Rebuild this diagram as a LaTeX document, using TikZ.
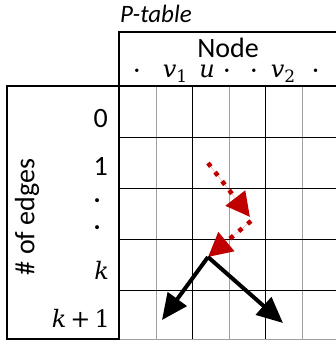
\documentclass[tikz,border=0pt]{standalone}
\usepackage{fontspec}
\setmainfont{Carlito}
\newfontfamily\varfont{DejaVu Serif}
\usetikzlibrary{arrows.meta}
\definecolor{crimson}{RGB}{192,0,0}
\definecolor{gridgray}{RGB}{160,160,160}
\newcommand{\var}[1]{{\varfont\itshape #1}}
\newcommand{\idx}[1]{\raisebox{-0.22em}{\varfont\fontsize{17}{17}\selectfont #1}}
\tikzset{
  lbl/.style={font=\fontsize{28}{32}\selectfont,inner sep=0pt},
  varlbl/.style={font=\fontsize{24}{28}\selectfont,inner sep=0pt},
  rowlbl/.style={lbl,anchor=base east},
  collbl/.style={varlbl,anchor=base},
  gridline/.style={line width=1pt,draw=#1},
  gridline/.default=black,
  frame/.style={line width=1.3pt,draw=black},
  hop/.style={-{Triangle[length=24pt,width=24pt]},draw=crimson,fill=crimson,
    line width=4.5pt,dash pattern=on 4.5pt off 7pt},
  edgestep/.style={-{Triangle[length=26pt,width=23pt]},line width=4pt},
}
\begin{document}
\begin{tikzpicture}[x=1pt,y=-1pt]
  \useasboundingbox (0,0) rectangle (336,343);
  % grid of the table
  \foreach \x/\c in {156/gridgray,192/black,229/gridgray,265/black,302/gridgray}
    \draw[gridline=\c] (\x,86) -- (\x,339);
  \foreach \y in {137,188,239,290}
    \draw[gridline] (119,\y) -- (336,\y);
  \draw[gridline=gridgray] (119,339) -- (336,339);
  % frames
  \draw[frame,line width=1.8pt] (336,32) -- (119,32) -- (119,339);
  \draw[frame] (119,86) -- (336,86);
  \draw[frame] (7,86) rectangle (119,339);
  % titles
  \node[lbl,font=\fontsize{25}{29}\selectfont\itshape,anchor=base west] (title) at (120,22) {P-table};
  \node[lbl,anchor=base] (nodehead) at (228,57) {Node};
  \node[lbl,rotate=90] (edgeshead) at (27,217) {\# of edges};
  % column labels
  \foreach \x/\t [count=\i] in {137/{·},175/{\var{v}\idx{1}},207/{\var{u}},227/{·},254/{·},283/{\var{v}\idx{2}},315.7/{·}}
    \node[collbl] (col\i) at (\x,77) {\t};
  % row labels
  \node[rowlbl] (row0) at (108,127) {0};
  \node[rowlbl] (row1) at (108,175) {1};
  \node[rowlbl] (rowd1) at (101,208) {·};
  \node[rowlbl] (rowd2) at (101,235) {·};
  \node[rowlbl,varlbl] (rowk) at (109,279) {\var{k}};
  \node[rowlbl,varlbl] (rowk1) at (110,327) {\var{k}\,{\varfont +}\,{\varfont 1}};
  % paths through the table
  \coordinate (start) at (208,163);
  \coordinate (mid) at (250,217);
  \coordinate (midb) at (251,221);
  \coordinate (cur) at (208,257);
  \coordinate (left) at (162,320);
  \coordinate (right) at (283,323);
  \draw[hop] (start) -- (mid);
  \draw[hop] (midb) -- (cur);
  \draw[edgestep] (cur) -- (left);
  \draw[edgestep] (cur) -- (right);
\end{tikzpicture}
\end{document}
